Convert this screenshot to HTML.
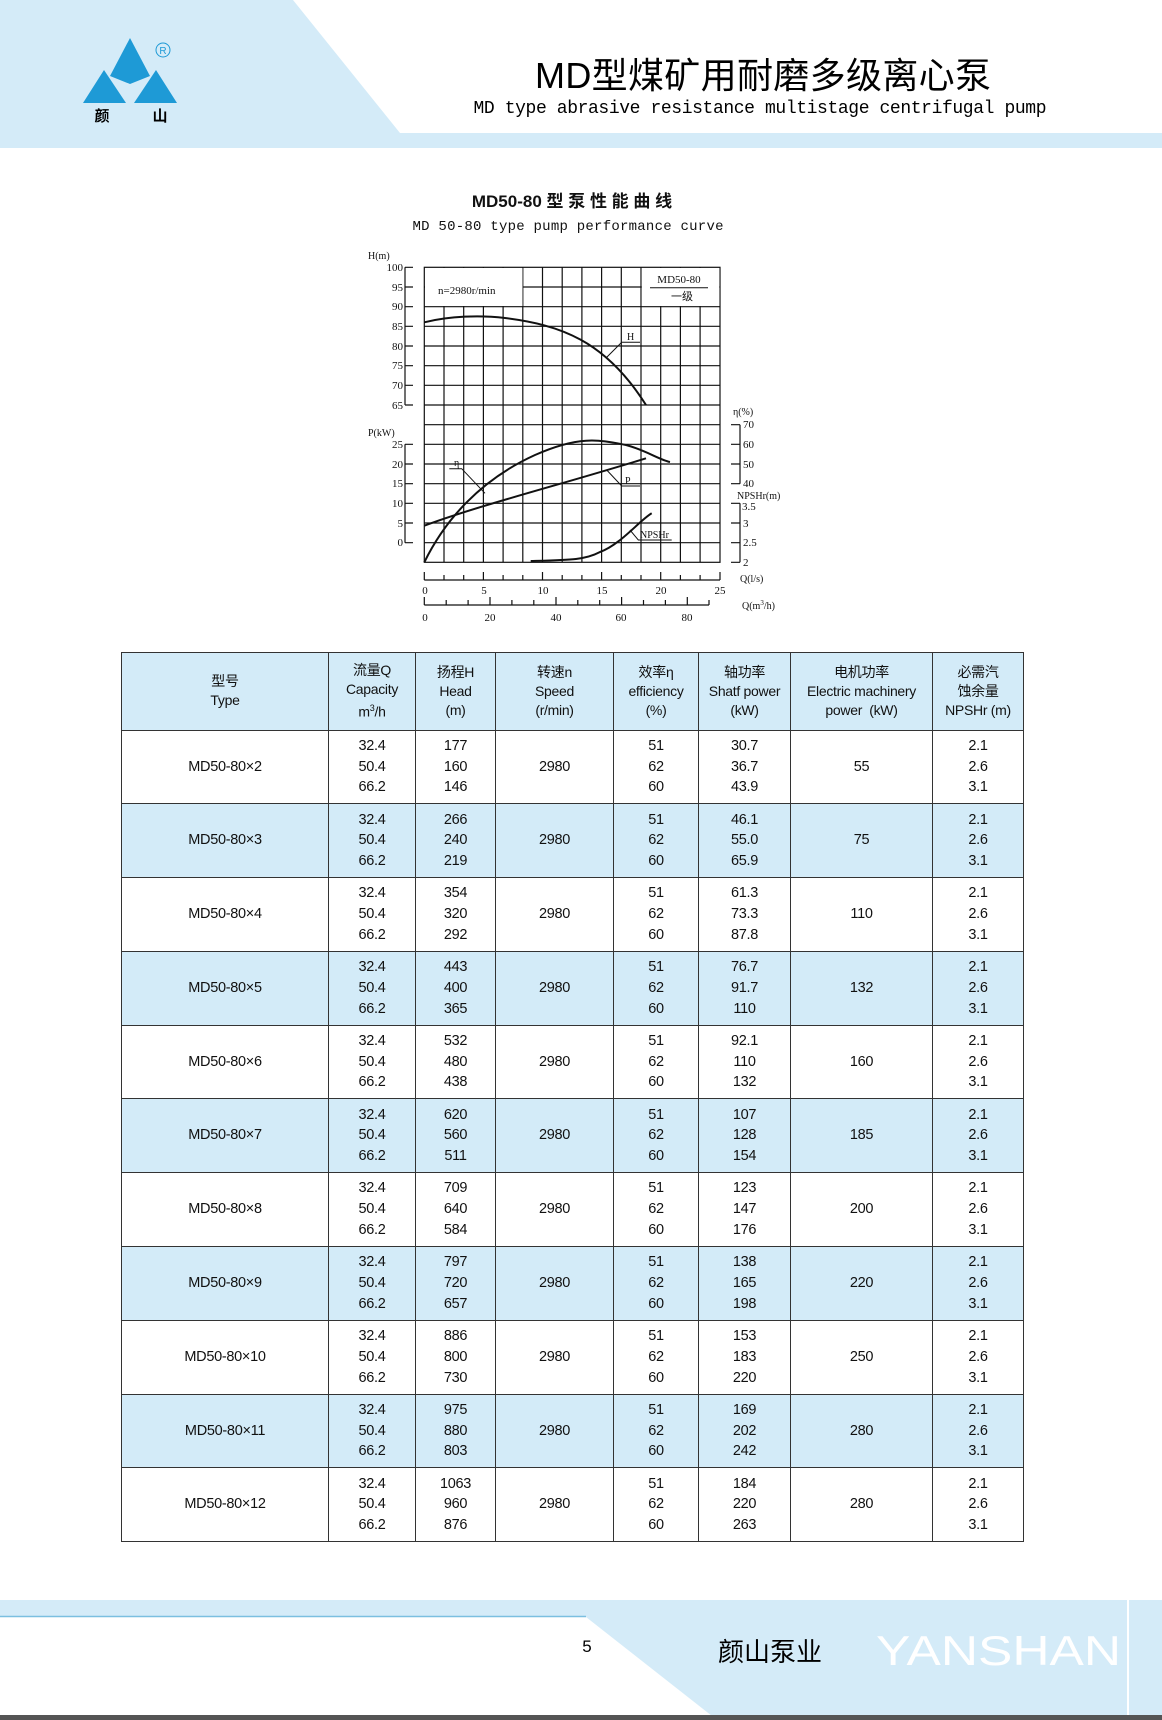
<!DOCTYPE html>
<html><head><meta charset="utf-8">
<style>
*{margin:0;padding:0;box-sizing:border-box}
body{width:1162px;height:1720px;position:relative;background:#fff;overflow:hidden;font-family:"Liberation Sans","Noto Sans CJK SC",sans-serif}
.abs{position:absolute}
table{position:absolute;left:121px;top:652px;width:902px;border-collapse:collapse;table-layout:fixed;font-family:"Liberation Sans Narrow","Liberation Sans","Noto Sans CJK SC",sans-serif;font-size:14.5px;color:#111;letter-spacing:-0.3px}
td{border:1px solid #333;text-align:center;vertical-align:middle;line-height:20.8px;height:73.8px}
tr.h td{height:77.5px;line-height:19px;background:#d3ebf8;font-size:14px}
tr.b td{background:#d3ebf8}
</style></head><body>
<svg class="abs" style="left:0;top:0" width="1162" height="150">
<polygon points="0,0 293,0 400,133 1162,133 1162,148 0,148" fill="#d4ebf8"/>
<polygon points="130,38 150,76 130,84 110,76" fill="#1e9ad6"/>
<polygon points="104,70 126,103 83,103" fill="#1e9ad6"/>
<polygon points="156,70 177,103 134,103" fill="#1e9ad6"/>
<circle cx="163" cy="50" r="7" fill="none" stroke="#1e9ad6" stroke-width="1"/>
<text x="163" y="54" font-size="10" fill="#1e9ad6" text-anchor="middle">R</text>
<text x="102" y="121" font-size="15" font-weight="bold" text-anchor="middle" font-family="Noto Sans CJK SC">颜</text>
<text x="160" y="121" font-size="15" font-weight="bold" text-anchor="middle" font-family="Noto Sans CJK SC">山</text>
<text x="763" y="88" font-size="36" text-anchor="middle" font-family="Liberation Sans,Noto Sans CJK SC,sans-serif" textLength="456">MD型煤矿用耐磨多级离心泵</text>
<text x="760" y="113" font-size="18" text-anchor="middle" font-family="Liberation Mono,monospace" textLength="573">MD type abrasive resistance multistage centrifugal pump</text>
</svg>

<svg class="abs" style="left:0;top:180" width="1162" height="450" font-family="Liberation Serif,serif" font-size="11" fill="#111">
<g transform="translate(0,-180)">
<text x="572" y="207" font-size="17" font-weight="bold" text-anchor="middle" font-family="Liberation Sans,Noto Sans CJK SC,sans-serif">MD50-80 型 泵 性 能 曲 线</text>
<text x="568" y="230" font-size="14" text-anchor="middle" font-family="Liberation Mono,monospace" textLength="311">MD 50-80 type pump performance curve</text>
<g stroke="#111" stroke-width="1.2">
<rect x="424.3" y="267.3" width="295.7" height="295" fill="none"/>
<path d="M444,267.3V562.3M463.7,267.3V562.3M483.4,267.3V562.3M503.1,267.3V562.3M522.8,267.3V562.3M542.5,267.3V562.3M562.2,267.3V562.3M581.9,267.3V562.3M601.6,267.3V562.3M621.3,267.3V562.3M641,267.3V562.3M660.7,267.3V562.3M680.4,267.3V562.3M700.1,267.3V562.3"/>
<path d="M424.3,287H720M424.3,306.7H720M424.3,326.3H720M424.3,346H720M424.3,365.7H720M424.3,385.3H720M424.3,405H720M424.3,424.7H720M424.3,444.3H720M424.3,464H720M424.3,483.7H720M424.3,503.3H720M424.3,523H720M424.3,542.7H720"/>
</g>
<rect x="425" y="268" width="97.5" height="38" fill="#fff"/>
<rect x="641.8" y="268" width="77.5" height="38" fill="#fff"/>
<text x="438" y="294" font-size="11">n=2980r/min</text>
<text x="679" y="283" font-size="11" text-anchor="middle">MD50-80</text>
<line x1="650" y1="287.7" x2="708" y2="287.7" stroke="#111"/>
<text x="682" y="300" font-size="11" text-anchor="middle" font-family="Noto Sans CJK SC">一级</text>
<g stroke="#111" stroke-width="1.2" fill="none">
<path d="M405,267.3V405M405,267.3h8M405,287h8M405,306.7h8M405,326.3h8M405,346h8M405,365.7h8M405,385.3h8M405,405h8"/>
<path d="M405,444.3V542.7M405,444.3h8M405,464h8M405,483.7h8M405,503.3h8M405,523h8M405,542.7h8"/>
<path d="M740,424.7V483.7M740,424.7h-9M740,444.3h-9M740,464h-9M740,483.7h-9"/>
<path d="M740,503.3V562.3M740,503.3h-9M740,523h-9M740,542.7h-9M740,562.3h-9"/>
<path d="M424.3,580H720M424.3,572V580M444,575V580M463.7,575V580M483.4,572V580M503.1,575V580M522.8,575V580M542.5,572V580M562.2,575V580M581.9,575V580M601.6,572V580M621.3,575V580M641,575V580M660.7,572V580M680.4,575V580M700.1,575V580M720,572V580"/>
<path d="M424.3,605H709M424.3,597V605M446.2,600V605M468.1,600V605M490,597V605M511.9,600V605M533.8,600V605M556,597V605M577.8,600V605M599.7,600V605M621.6,597V605M643.5,600V605M665.4,600V605M687.3,597V605M709,600V605"/>
</g>
<g text-anchor="end" font-size="11">
<text x="403" y="271">100</text><text x="403" y="291">95</text><text x="403" y="310">90</text><text x="403" y="330">85</text><text x="403" y="350">80</text><text x="403" y="369">75</text><text x="403" y="389">70</text><text x="403" y="409">65</text>
<text x="403" y="448">25</text><text x="403" y="468">20</text><text x="403" y="487">15</text><text x="403" y="507">10</text><text x="403" y="527">5</text><text x="403" y="546">0</text>
</g>
<text x="368" y="259" font-size="10">H(m)</text>
<text x="368" y="436" font-size="10">P(kW)</text>
<text x="733" y="415" font-size="10">η(%)</text>
<g font-size="11"><text x="743" y="428">70</text><text x="743" y="448">60</text><text x="743" y="468">50</text><text x="743" y="487">40</text>
<text x="742" y="510">3.5</text><text x="743" y="527">3</text><text x="743" y="546">2.5</text><text x="743" y="566">2</text></g>
<text x="737" y="499" font-size="10">NPSHr(m)</text>
<text x="740" y="582" font-size="10">Q(l/s)</text>
<text x="742" y="609" font-size="10">Q(m<tspan font-size="7" dy="-4">3</tspan><tspan dy="4">/h)</tspan></text>
<g font-size="11" text-anchor="middle"><text x="425" y="594">0</text><text x="484" y="594">5</text><text x="543" y="594">10</text><text x="602" y="594">15</text><text x="661" y="594">20</text><text x="720" y="594">25</text>
<text x="425" y="621">0</text><text x="490" y="621">20</text><text x="556" y="621">40</text><text x="621" y="621">60</text><text x="687" y="621">80</text></g>
<g stroke="#111" stroke-width="2" fill="none">
<path d="M424.3,322.3 C450,316 480,315 505,318 C560,325 605,340 646,405"/>
<path d="M424.3,562.3 C445,520 480,480 535,455 C580,435 600,440 626,445 C645,450 660,460 670,462"/>
<path d="M424.3,525.7 C480,505 560,485 646,458.3"/>
<path d="M530.7,561 C570,560 585,560 600,552 C620,545 640,520 651.7,513.3"/>
</g>
<g stroke="#111" stroke-width="1" fill="none">
<path d="M606,358 L621.7,342.3 H640"/><path d="M485,493.3 L461.7,468.7 H449.3"/>
<path d="M606.7,470 L621.7,486 H640"/><path d="M630,530 L638.3,540 H671.7"/>
</g>
<text x="627" y="340" font-size="10">H</text><text x="454" y="466" font-size="10">η</text>
<text x="625" y="484" font-size="10">P</text><text x="640" y="538" font-size="10">NPSHr</text>
</g></svg>

<table>
<colgroup><col style="width:207px"><col style="width:87px"><col style="width:80px"><col style="width:118px"><col style="width:85px"><col style="width:92px"><col style="width:142px"><col style="width:91px"></colgroup>
<tr class="h"><td>型号<br>Type</td><td>流量Q<br>Capacity<br>m<sup style="font-size:9px">3</sup>/h</td><td>扬程H<br>Head<br>(m)</td><td>转速n<br>Speed<br>(r/min)</td><td>效率η<br>efficiency<br>(%)</td><td>轴功率<br>Shatf power<br>(kW)</td><td>电机功率<br>Electric machinery<br>power &nbsp;(kW)</td><td>必需汽<br>蚀余量<br>NPSHr (m)</td></tr>
<tr><td>MD50-80×2</td><td>32.4<br>50.4<br>66.2</td><td>177<br>160<br>146</td><td>2980</td><td>51<br>62<br>60</td><td>30.7<br>36.7<br>43.9</td><td>55</td><td>2.1<br>2.6<br>3.1</td></tr>
<tr class="b"><td>MD50-80×3</td><td>32.4<br>50.4<br>66.2</td><td>266<br>240<br>219</td><td>2980</td><td>51<br>62<br>60</td><td>46.1<br>55.0<br>65.9</td><td>75</td><td>2.1<br>2.6<br>3.1</td></tr>
<tr><td>MD50-80×4</td><td>32.4<br>50.4<br>66.2</td><td>354<br>320<br>292</td><td>2980</td><td>51<br>62<br>60</td><td>61.3<br>73.3<br>87.8</td><td>110</td><td>2.1<br>2.6<br>3.1</td></tr>
<tr class="b"><td>MD50-80×5</td><td>32.4<br>50.4<br>66.2</td><td>443<br>400<br>365</td><td>2980</td><td>51<br>62<br>60</td><td>76.7<br>91.7<br>110</td><td>132</td><td>2.1<br>2.6<br>3.1</td></tr>
<tr><td>MD50-80×6</td><td>32.4<br>50.4<br>66.2</td><td>532<br>480<br>438</td><td>2980</td><td>51<br>62<br>60</td><td>92.1<br>110<br>132</td><td>160</td><td>2.1<br>2.6<br>3.1</td></tr>
<tr class="b"><td>MD50-80×7</td><td>32.4<br>50.4<br>66.2</td><td>620<br>560<br>511</td><td>2980</td><td>51<br>62<br>60</td><td>107<br>128<br>154</td><td>185</td><td>2.1<br>2.6<br>3.1</td></tr>
<tr><td>MD50-80×8</td><td>32.4<br>50.4<br>66.2</td><td>709<br>640<br>584</td><td>2980</td><td>51<br>62<br>60</td><td>123<br>147<br>176</td><td>200</td><td>2.1<br>2.6<br>3.1</td></tr>
<tr class="b"><td>MD50-80×9</td><td>32.4<br>50.4<br>66.2</td><td>797<br>720<br>657</td><td>2980</td><td>51<br>62<br>60</td><td>138<br>165<br>198</td><td>220</td><td>2.1<br>2.6<br>3.1</td></tr>
<tr><td>MD50-80×10</td><td>32.4<br>50.4<br>66.2</td><td>886<br>800<br>730</td><td>2980</td><td>51<br>62<br>60</td><td>153<br>183<br>220</td><td>250</td><td>2.1<br>2.6<br>3.1</td></tr>
<tr class="b"><td>MD50-80×11</td><td>32.4<br>50.4<br>66.2</td><td>975<br>880<br>803</td><td>2980</td><td>51<br>62<br>60</td><td>169<br>202<br>242</td><td>280</td><td>2.1<br>2.6<br>3.1</td></tr>
<tr><td>MD50-80×12</td><td>32.4<br>50.4<br>66.2</td><td>1063<br>960<br>876</td><td>2980</td><td>51<br>62<br>60</td><td>184<br>220<br>263</td><td>280</td><td>2.1<br>2.6<br>3.1</td></tr>
</table>

<svg class="abs" style="left:0;top:1595" width="1162" height="125">
<rect x="0" y="5" width="1162" height="115" fill="#d4ebf8"/>
<polygon points="0,22 586,22 712,121 0,121" fill="#fff"/>
<line x1="0" y1="21.5" x2="586" y2="21.5" stroke="#7bbfe0" stroke-width="1.5"/>
<rect x="0" y="120" width="1162" height="5" fill="#555"/>
<rect x="1127" y="5" width="2" height="115" fill="#fff"/>
<text x="587" y="57" font-size="17" text-anchor="middle">5</text>
<text x="718" y="66" font-size="26" font-family="Noto Sans CJK SC,sans-serif">颜山泵业</text>
<text x="876" y="70" font-size="42" fill="#fff" font-family="Liberation Sans,sans-serif" textLength="245" lengthAdjust="spacingAndGlyphs">YANSHAN</text>
</svg>
</body></html>
